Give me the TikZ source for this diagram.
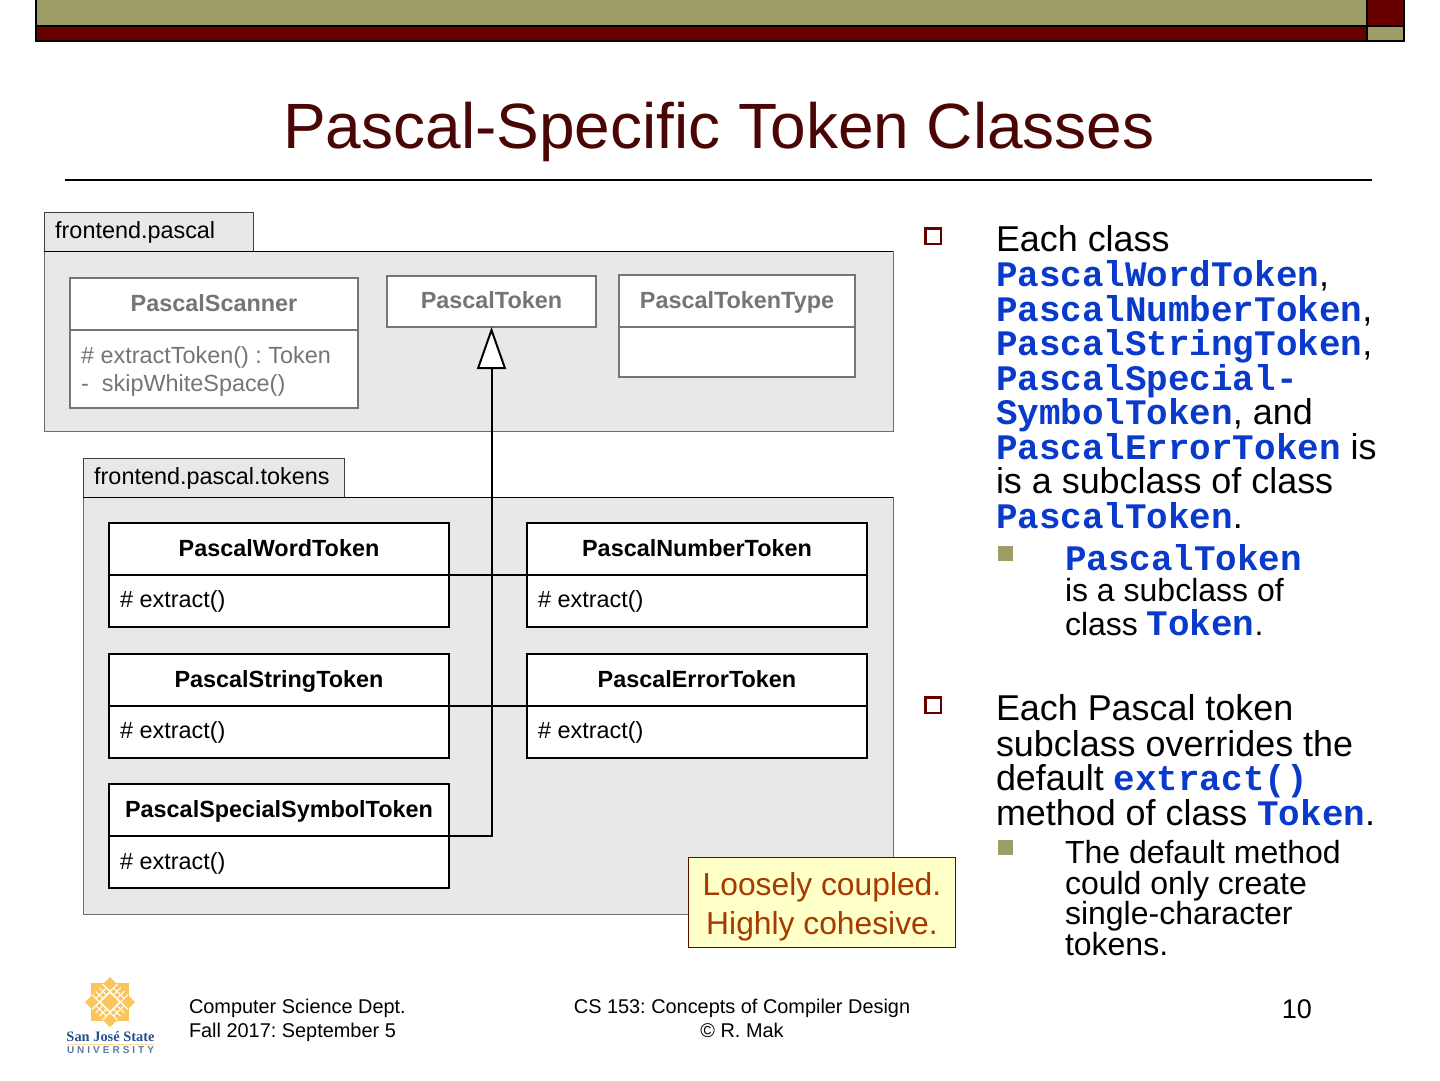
\documentclass[tikz,border=0pt]{standalone}
\usepackage{fontspec}
\setmainfont{Liberation Sans}
\newfontfamily\monob{Liberation Mono}[BoldFont=* Bold]
\usetikzlibrary{arrows.meta,calc}
\definecolor{olive}{HTML}{9C9D67}
\definecolor{maroon}{HTML}{680000}
\definecolor{titlec}{HTML}{4A0505}
\definecolor{codeblue}{HTML}{0A3ACB}
\definecolor{pkgfill}{HTML}{E8E8E8}
\definecolor{pkgline}{HTML}{6E6E6E}
\definecolor{fadeg}{HTML}{757575}
\definecolor{noteyellow}{HTML}{FFFFC8}
\definecolor{noteorange}{HTML}{A63A00}
\definecolor{noteline}{HTML}{5A1000}
\definecolor{logoor}{HTML}{FBC55C}
\definecolor{logobl}{HTML}{24508C}
\newcommand{\cc}[1]{{\fontsize{35.9pt}{35.9pt}\selectfont\monob\bfseries\color{codeblue}#1}}
\newcommand{\fs}[1]{\fontsize{#1pt}{#1pt}\selectfont}
\tikzset{
  x=1pt,y=-1pt,
  pkg/.style={draw=pkgline,fill=pkgfill,line width=1pt,anchor=north west,inner sep=0pt,outer sep=0pt},
  hdr/.style={draw=black,fill=white,line width=2.2pt,anchor=north west,inner sep=0pt,outer sep=0pt,font=\fs{23.4}\bfseries,text height=18pt,text depth=4pt},
  bdy/.style={draw=black,fill=white,line width=2.2pt,anchor=north west,inner sep=0pt,outer sep=0pt,font=\fs{23.4},align=left,text width=#1},
  ghdr/.style={hdr,draw=fadeg,text=fadeg,line width=2.6pt},
  gbdy/.style={bdy=#1,draw=fadeg,text=fadeg,line width=2.6pt},
  lbl/.style={anchor=base west,inner sep=0pt,font=\fs{23.4}},
  mytxt/.style={anchor=base west,inner sep=0pt,outer sep=0pt,font=\fs{35.9}},
  sub/.style={anchor=base west,inner sep=0pt,outer sep=0pt,font=\fs{32}},
  foot/.style={anchor=base,inner sep=0pt,outer sep=0pt,font=\fs{19.9}},
  bul/.style={draw=maroon,fill=white,line width=2.5pt,minimum size=15.5pt,inner sep=0pt},
  sbul/.style={fill=olive,minimum size=15pt,inner sep=0pt},
  barb/.style={draw=black,line width=2pt},
}
\begin{document}
\frenchspacing
\begin{tikzpicture}
\useasboundingbox (0,0) rectangle (1440,1080);
% top bar
\fill[olive,barb] (36,-2) rectangle (1367,26);
\fill[maroon,barb] (36,26) rectangle (1367,40.5);
\fill[maroon,barb] (1367,-2) rectangle (1404,26);
\fill[olive,barb] (1367,26) rectangle (1404,40.5);
% title
\node[anchor=base,inner sep=0pt,text=titlec,font=\fs{64}] (title) at (719,148) {Pascal-Specific Token Classes};
\draw[line width=2pt] (65,180) -- (1372,180);
% package 1
\node[pkg,draw=black!75,minimum width=209pt,minimum height=39pt] (tab1) at (44,212) {};
\node[lbl] (tab1t) at (55,238.5) {frontend.pascal};
\node[pkg,minimum width=849pt,minimum height=180pt] (pk1) at (44,251) {};
\draw[line width=1pt] (pk1.north west) -- (pk1.north east);
\node[ghdr,minimum width=288pt,minimum height=52pt] (scanH) at (70,278) {PascalScanner};
\node[gbdy=268pt,minimum width=288pt,minimum height=78pt] (scanB) at (70,330) {};
\node[lbl,text=fadeg] (s1) at (81,363) {\# extractToken() : Token};
\node[lbl,text=fadeg] (s2) at (81,391) {-\ \ skipWhiteSpace()};
\node[ghdr,minimum width=209pt,minimum height=51pt] (token) at (387,276) {PascalToken};
\node[ghdr,minimum width=236pt,minimum height=52pt] (typeH) at (619,275) {PascalTokenType};
\node[gbdy=216pt,minimum width=236pt,minimum height=50pt] (typeB) at (619,327) {};
% package 2
\node[pkg,draw=black!75,minimum width=261pt,minimum height=39pt] (tab2) at (83,458) {};
\node[lbl] (tab2t) at (94,484) {frontend.pascal.tokens};
\node[pkg,minimum width=810pt,minimum height=417pt] (pk2) at (83,497) {};
\draw[line width=1pt] (pk2.north west) -- (pk2.north east);
% classes
\node[hdr,minimum width=340pt,minimum height=52pt] (wordH) at (109,523) {PascalWordToken};
\node[bdy=320pt,minimum width=340pt,minimum height=52pt] (wordB) at (109,575) {};
\node[hdr,minimum width=340pt,minimum height=52pt] (numH) at (527,523) {PascalNumberToken};
\node[bdy=320pt,minimum width=340pt,minimum height=52pt] (numB) at (527,575) {};
\node[hdr,minimum width=340pt,minimum height=52pt] (strH) at (109,654) {PascalStringToken};
\node[bdy=320pt,minimum width=340pt,minimum height=52pt] (strB) at (109,706) {};
\node[hdr,minimum width=340pt,minimum height=52pt] (errH) at (527,654) {PascalErrorToken};
\node[bdy=320pt,minimum width=340pt,minimum height=52pt] (errB) at (527,706) {};
\node[hdr,minimum width=340pt,minimum height=52pt] (specH) at (109,784) {PascalSpecialSymbolToken};
\node[bdy=320pt,minimum width=340pt,minimum height=52pt] (specB) at (109,836) {};
\foreach \n/\x/\y in {e1/120/607,e2/538/607,e3/120/738,e4/538/738,e5/120/869}
  \node[lbl] (\n) at (\x,\y) {\# extract()};
% connectors
\draw[line width=2pt] (wordH.south east) -- (numH.south west);
\draw[line width=2pt] (strH.south east) -- (errH.south west);
\draw[line width=2pt,-{Triangle[open,fill=white,length=42pt,width=29pt,line width=2pt]}] (specH.south east) -| (token.south);
% note
\node[draw=noteline,fill=noteyellow,line width=1.5pt,anchor=north west,minimum width=267pt,minimum height=90pt,inner sep=0pt,outer sep=0pt,align=center,text=noteorange,font=\fontsize{31.8}{39}\selectfont] (note) at (688.5,857.5) {\rule{0pt}{32pt}Loosely coupled.\\Highly cohesive.};
% right text
\node[bul] (b1) at (933,236) {};
\foreach \n/\y/\t in {
 a1/251.7/{Each class},
 a2/286.4/{\cc{PascalWordToken},},
 a3/321.4/{\cc{PascalNumberToken},},
 a4/355.4/{\cc{PascalStringToken},},
 a5/390.4/{\cc{PascalSpecial-}},
 a6/424.4/{\cc{SymbolToken}, and},
 a7/459.4/{\cc{PascalErrorToken} is},
 a8/493.4/{is a subclass of class},
 a9/528.4/{\cc{PascalToken}.}}
 \node[mytxt] (\n) at (996,\y) {\t};
\node[sbul] (b2) at (1005.5,553) {};
\node[sub] (c1) at (1065,570) {\cc{PascalToken}};
\node[sub] (c2) at (1065,601) {is a subclass of};
\node[sub] (c3) at (1065,635) {class \cc{Token}\fs{32}.};
\node[bul] (b3) at (933,705) {};
\foreach \n/\y/\t in {
 d1/720.7/{Each Pascal token},
 d2/756.4/{subclass overrides the},
 d3/790.4/{default \cc{extract()}},
 d4/825.4/{method of class \cc{Token}.}}
 \node[mytxt] (\n) at (996,\y) {\t};
\node[sbul] (b4) at (1005.5,847) {};
\foreach \n/\y/\t in {
 f1/863/{The default method},
 f2/894/{could only create},
 f3/924/{single-character},
 f4/955/{tokens.}}
 \node[sub] (\n) at (1065,\y) {\t};
% footer
\node[foot,anchor=base west] (ft1) at (189,1013) {Computer Science Dept.};
\node[foot,anchor=base west] (ft2) at (189,1037) {Fall 2017: September 5};
\node[foot] (ft3) at (742,1013) {CS 153: Concepts of Compiler Design};
\node[foot] (ft4) at (742,1037) {© R. Mak};
\node[anchor=base east,inner sep=0pt,font=\fs{27}] (pg) at (1312,1018) {10};
% logo
\begin{scope}[shift={(110,1002)}]
 \fill[logoor] (-19,-19) rectangle (19,19);
 \fill[logoor] (0,-25) -- (25,0) -- (0,25) -- (-25,0) -- cycle;
 \draw[white,line width=1.3pt] (-10,0) -- (0,-10) -- (10,0) -- (0,10) -- cycle;
 \begin{scope}[rotate=45]
  \draw[white,line width=1.2pt] (-7.5,-17.7) -- (-7.5,17.7) (7.5,-17.7) -- (7.5,17.7) (-17.7,-7.5) -- (17.7,-7.5) (-17.7,7.5) -- (17.7,7.5);
  \draw[white,line width=1pt] (-7.5,-12.5) -- (7.5,-12.5) (-7.5,12.5) -- (7.5,12.5) (-12.5,-7.5) -- (-12.5,7.5) (12.5,-7.5) -- (12.5,7.5);
  \draw[white,line width=1pt] (-2.5,-17.7) -- (-2.5,-7.5) (2.5,-17.7) -- (2.5,-7.5) (-2.5,17.7) -- (-2.5,7.5) (2.5,17.7) -- (2.5,7.5);
  \draw[white,line width=1pt] (-17.7,-2.5) -- (-7.5,-2.5) (-17.7,2.5) -- (-7.5,2.5) (17.7,-2.5) -- (7.5,-2.5) (17.7,2.5) -- (7.5,2.5);
 \end{scope}
\end{scope}
\node[anchor=base,inner sep=0pt,text=logobl,font={\fontspec{Liberation Serif}\bfseries\fontsize{14.4}{14.4}\selectfont}] (lg1) at (110.5,1041.5) {San José State};
\fill[logoor!60] (67,1043.5) rectangle (154,1044.3);
\node[anchor=base,inner sep=0pt,text=logobl!75,font=\fs{10}\bfseries] (lg2) at (110.5,1053) {\hbox to 87pt{U\hfil N\hfil I\hfil V\hfil E\hfil R\hfil S\hfil I\hfil T\hfil Y}};
\end{tikzpicture}
\end{document}
